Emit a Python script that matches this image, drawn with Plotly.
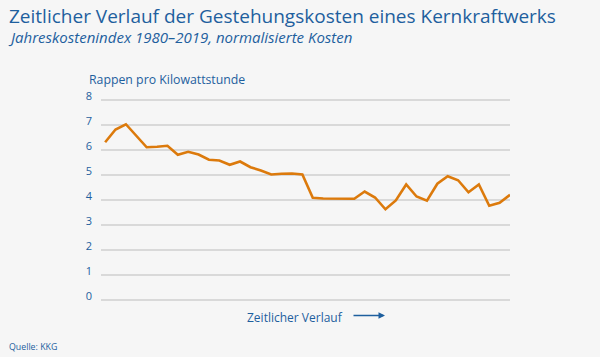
import plotly.graph_objects as go

years = list(range(1980, 2020))
kosten = [6.31, 6.82, 7.03, 6.57, 6.11, 6.13, 6.17, 5.81, 5.93, 5.82,
          5.61, 5.58, 5.41, 5.54, 5.31, 5.18, 5.02, 5.05, 5.06, 5.02,
          4.09, 4.06, 4.05, 4.05, 4.05, 4.34, 4.10, 3.63, 3.98, 4.62,
          4.14, 3.97, 4.65, 4.95, 4.79, 4.31, 4.62, 3.77, 3.89, 4.21]
y_ticks = [0, 1, 2, 3, 4, 5, 6, 7, 8]

BLUE = "#1e5f9e"
ORANGE = "#dc7a0c"
BG = "#f6f6f6"
FONT = "Open Sans"

W, H = 600, 357
L, R_PX, T, B_PX = 101, 510, 95, 305


def px(x):
    return (x - L) / (R_PX - L)


def py(y):
    return (B_PX - y) / (B_PX - T)


fig = go.Figure()
fig.add_trace(go.Scatter(
    x=years, y=kosten, mode="lines",
    line=dict(color=ORANGE, width=2.6),
    hoverinfo="x+y", showlegend=False,
))

ann = [
    dict(text="Zeitlicher Verlauf der Gestehungskosten eines Kernkraftwerks",
         x=px(7), y=py(16), font=dict(size=19, color=BLUE, family=FONT)),
    dict(text="<i>Jahreskostenindex 1980–2019, normalisierte Kosten</i>",
         x=px(6), y=py(37), font=dict(size=15, color=BLUE, family=FONT)),
    dict(text="Rappen pro Kilowattstunde",
         x=px(87), y=py(79), font=dict(size=12.3, color=BLUE, family=FONT)),
    dict(text="Zeitlicher Verlauf",
         x=px(245), y=py(317), font=dict(size=12, color=BLUE, family=FONT)),
    dict(text="Quelle: KKG",
         x=px(7), y=py(347), font=dict(size=8.8, color=BLUE, family=FONT)),
]
annotations = [dict(a, xref="paper", yref="paper", xanchor="left",
                    yanchor="middle", showarrow=False) for a in ann]
annotations.append(dict(
    x=px(385), y=py(315.5), xref="paper", yref="paper",
    ax=-33, ay=0, axref="pixel", ayref="pixel",
    text="", showarrow=True, arrowhead=2, arrowsize=1, arrowwidth=1.3,
    arrowcolor=BLUE,
))

fig.update_layout(
    width=W, height=H,
    margin=dict(l=L, r=W - R_PX, t=T, b=H - B_PX, pad=0),
    paper_bgcolor=BG, plot_bgcolor=BG,
    font=dict(family=FONT, color=BLUE),
    annotations=annotations,
    xaxis=dict(range=[1979.6, 2019], showgrid=False, zeroline=False,
               showticklabels=False, showline=False, ticks=""),
    yaxis=dict(range=[-0.2, 8.2], tickvals=y_ticks,
               ticktext=[str(v) for v in y_ticks],
               showgrid=True, gridcolor="#d9d9d9", gridwidth=2,
               zeroline=False, showline=False, ticks="",
               tickfont=dict(size=11, color=BLUE, family=FONT),
               ticklabelstandoff=8, ticklabelshift=-4),
)

fig.write_html(
    "out.html",
    config={"displayModeBar": False},
    post_script="document.body.style.margin='0';"
                "document.body.style.background='" + BG + "';",
)
